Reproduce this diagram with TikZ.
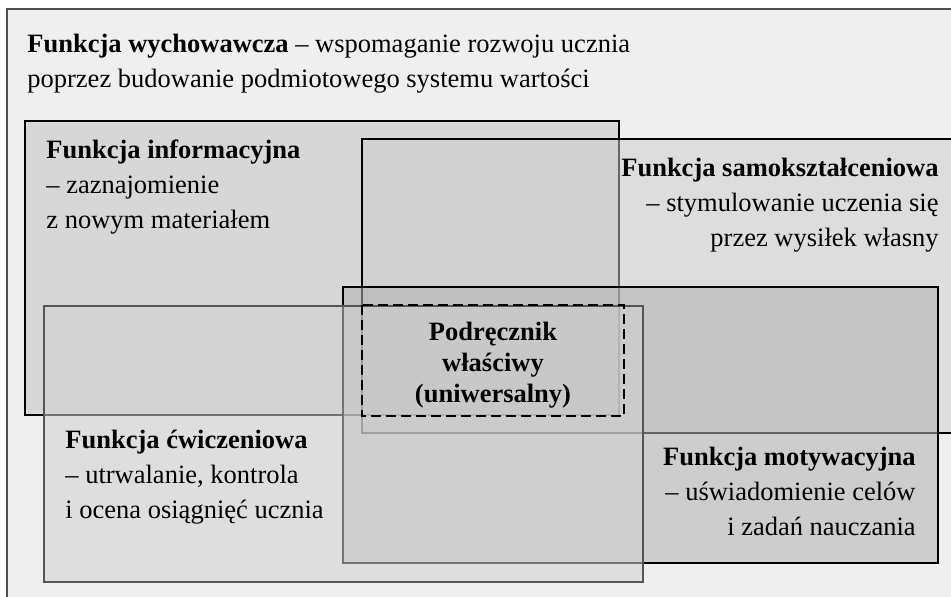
\documentclass[tikz,border=0pt]{standalone}
\usepackage{fontspec}
\setmainfont{Liberation Serif}
\usetikzlibrary{positioning}

\definecolor{tlo}{RGB}{239,239,239}
\definecolor{ramka}{RGB}{80,80,80}
\definecolor{infofill}{RGB}{199,199,199}
\definecolor{samofill}{RGB}{204,204,204}
\definecolor{motyfill}{RGB}{178,178,178}
\definecolor{cwicfill}{RGB}{209,209,209}
\definecolor{cwicline}{RGB}{85,85,85}

\begin{document}
\begin{tikzpicture}[x=0.5pt,y=-0.5pt,
    pole/.style={draw=black,line width=1pt},
    opis/.style={inner sep=0pt,font=\fontsize{13.25}{17.5}\selectfont},
    srodek/.style={inner sep=0pt,font=\fontsize{13.25}{15.5}\selectfont\bfseries}]
\useasboundingbox (0,0) rectangle (951,596);
\clip (0,0) rectangle (951,596);
\draw[draw=ramka,line width=0.75pt,fill=tlo] (7,9) rectangle (990,620);
\draw[pole,fill=infofill,fill opacity=0.6] (25,121) rectangle (619,415);
\draw[pole,fill=samofill,fill opacity=0.5] (362,139) rectangle (990,433);
\draw[pole,fill=motyfill,fill opacity=0.55] (343,287) rectangle (938,563);
\draw[pole,draw=cwicline,fill=cwicfill,fill opacity=0.55] (44,306) rectangle (643,582);
\draw[line width=1pt,dash pattern=on 5pt off 2.5pt] (362,305) rectangle (624,416);

\node[opis,anchor=north west,align=left] (wych) at (27,34)
    {\textbf{Funkcja wychowawcza} – wspomaganie rozwoju ucznia\\poprzez budowanie podmiotowego systemu wartości};
\node[opis,anchor=north west,align=left] (info) at (46,139)
    {\textbf{Funkcja informacyjna}\\– zaznajomienie\\z nowym materiałem};
\node[opis,anchor=north east,align=right] (samo) at (939,158)
    {\textbf{Funkcja samokształceniowa}\\– stymulowanie uczenia się\\przez wysiłek własny};
\node[opis,anchor=north west,align=left] (cwic) at (65,430)
    {\textbf{Funkcja ćwiczeniowa}\\– utrwalanie, kontrola\\i ocena osiągnięć ucznia};
\node[opis,anchor=north east,align=right] (moty) at (916,447)
    {\textbf{Funkcja motywacyjna}\\– uświadomienie celów\\i zadań nauczania};
\node[srodek,anchor=north,align=center] (podr) at (493,322)
    {Podręcznik\\właściwy\\(uniwersalny)};
\end{tikzpicture}
\end{document}
